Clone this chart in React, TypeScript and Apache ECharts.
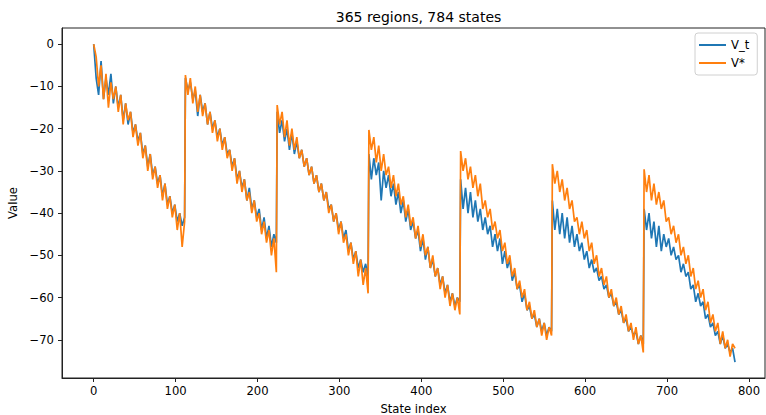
import React, { useEffect, useRef } from "react";
import * as echarts from "echarts";

// each block holds 112 states; values are read at every 3rd state (offsets 0..111)
const SEG_LEN = 112;
const STEP = 3;

// V_t (blue), one array per block
const vT1 = [0, -8, -12, -4, -13, -8, -12, -7, -14, -10, -15, -12, -18, -14, -19, -16, -21, -19, -23, -21, -26, -24, -29, -26, -31, -29, -33, -31, -36, -33, -38, -36, -40, -38, -42, -40, -43, -41];
const vT2 = [-8, -11, -9, -13, -11, -17, -12, -16, -14, -19, -16, -20, -18, -22, -20, -24, -22, -26, -25, -29, -27, -32, -30, -34, -32, -37, -34, -39, -37, -41, -39, -44, -41, -46, -43, -48, -45, -47];
const vT3 = [-16, -21, -18, -23, -20, -25, -21, -26, -23, -27, -25, -29, -27, -31, -29, -33, -31, -35, -33, -37, -35, -39, -38, -42, -40, -44, -42, -46, -44, -49, -47, -51, -49, -53, -51, -54, -52, -55];
const vT4 = [-26, -32, -27, -31, -28, -37, -30, -34, -31, -36, -33, -38, -35, -40, -37, -42, -39, -44, -42, -46, -44, -49, -46, -51, -48, -53, -51, -55, -53, -57, -55, -59, -57, -61, -59, -62, -60, -61];
const vT5 = [-32, -39, -34, -40, -35, -41, -37, -42, -39, -44, -41, -45, -43, -48, -45, -49, -46, -52, -49, -53, -51, -56, -54, -58, -57, -61, -59, -63, -62, -65, -64, -67, -65, -68, -66, -69, -67, -68];
const vT6 = [-37, -44, -39, -45, -40, -46, -41, -47, -43, -48, -45, -49, -47, -51, -49, -53, -51, -54, -53, -56, -55, -58, -57, -60, -59, -62, -61, -64, -63, -66, -65, -68, -67, -69, -68, -71, -69, -71];
const vT7 = [-39, -44, -40, -46, -42, -48, -43, -49, -45, -48, -46, -50, -48, -51, -50, -54, -52, -55, -54, -58, -57, -61, -59, -62, -61, -65, -64, -67, -66, -69, -68, -71, -69, -72, -71, -73, -72, -75.3];

// V* (orange)
const vS1 = [0, -3, -10, -5, -13, -7, -15, -9, -13, -10, -16, -12, -19, -14, -18, -16, -22, -19, -24, -21, -27, -24, -30, -26, -32, -29, -34, -31, -37, -33, -39, -36, -41, -38, -44, -40, -48, -42];
const vS2 = [-7.3, -12, -8, -14, -10, -16, -12, -17, -14, -19, -16, -21, -18, -23, -20, -25, -22, -27, -25, -30, -27, -33, -30, -35, -32, -37, -35, -40, -37, -42, -40, -45, -42, -47, -44, -50, -46, -54];
const vS3 = [-14.4, -19, -16, -22, -18, -24, -20, -25, -22, -27, -25, -29, -27, -31, -29, -33, -31, -35, -33, -37, -35, -40, -38, -42, -40, -45, -42, -47, -45, -50, -47, -52, -49, -55, -51, -57, -53, -59];
const vS4 = [-20.3, -25, -22, -28, -24, -30, -26, -31, -29, -34, -31, -36, -33, -38, -36, -41, -38, -43, -41, -46, -43, -48, -45, -50, -48, -53, -50, -55, -53, -58, -55, -60, -57, -62, -59, -63, -60, -64];
const vS5 = [-25.3, -30, -27, -32, -29, -34, -31, -36, -33, -39, -37, -41, -39, -44, -42, -46, -44, -49, -47, -52, -50, -55, -53, -58, -56, -60, -58, -63, -61, -65, -63, -67, -65, -69, -66, -70, -67, -69];
const vS6 = [-28.4, -33, -30, -35, -32, -37, -34, -39, -37, -42, -41, -45, -42, -46, -44, -49, -47, -52, -50, -55, -53, -57, -55, -60, -58, -62, -60, -64, -62, -66, -64, -68, -66, -70, -67, -71, -69, -73];
const vS7 = [-29.6, -35, -31, -37, -33, -38, -35, -39, -37, -42, -41, -45, -43, -47, -45, -50, -48, -52, -50, -55, -53, -58, -56, -60, -58, -63, -61, -66, -64, -68, -66, -71, -68, -72, -70, -74, -71, -72];

const vTBlocks = [vT1, vT2, vT3, vT4, vT5, vT6, vT7];
const vStarBlocks = [vS1, vS2, vS3, vS4, vS5, vS6, vS7];

const xTicks = [0, 100, 200, 300, 400, 500, 600, 700, 800];
const yTicks = [0, -10, -20, -30, -40, -50, -60, -70];

const FONT = "DejaVu Sans";
const minus = (v: number) => String(v).replace("-", "\u2212");

const toPts = (blocks: number[][]) =>
  blocks.flatMap((blk, b) => blk.map((v, j) => [b * SEG_LEN + j * STEP, v]));

export default function App() {
  const ref = useRef<HTMLDivElement>(null);
  useEffect(() => {
    document.body.style.margin = "0";
    const chart = echarts.init(ref.current!, null, { renderer: "svg" });
    chart.setOption({
      animation: false,
      backgroundColor: "#ffffff",
      title: {
        text: "365 regions, 784 states",
        left: 413.5,
        textAlign: "center",
        top: 5,
        textStyle: { fontFamily: FONT, fontSize: 14, fontWeight: "normal", color: "#000" },
      },
      legend: {
        data: [
          { name: "V_t", icon: "rect" },
          { name: "V*", icon: "rect" },
        ],
        orient: "vertical",
        left: 695,
        top: 33,
        padding: [5, 8, 5, 4],
        itemWidth: 27,
        itemHeight: 2,
        itemGap: 4,
        backgroundColor: "#fff",
        borderColor: "#d0d0d0",
        borderWidth: 1,
        borderRadius: 3,
        textStyle: { fontFamily: FONT, fontSize: 11.6, color: "#000", lineHeight: 14 },
      },
      grid: {
        left: 62,
        top: 28,
        width: 703,
        height: 350,
        show: true,
        borderColor: "#222",
        borderWidth: 1,
        backgroundColor: "transparent",
        containLabel: false,
        outerBoundsMode: "none",
      },
      xAxis: {
        type: "value",
        min: -38.7,
        max: 819.6,
        name: "State index",
        nameLocation: "middle",
        nameGap: 25,
        nameTextStyle: { fontFamily: FONT, fontSize: 11.6, color: "#000" },
        axisLine: { show: true, onZero: false, lineStyle: { color: "#222", width: 1 } },
        axisTick: { show: true, customValues: xTicks, length: 4, lineStyle: { color: "#222" } },
        axisLabel: {
          customValues: xTicks,
          fontFamily: FONT,
          fontSize: 11.6,
          color: "#000",
          margin: 7,
          formatter: (v: number) => minus(v),
        },
        splitLine: { show: false },
      },
      yAxis: {
        type: "value",
        min: -79.05,
        max: 3.85,
        name: "Value",
        nameLocation: "middle",
        nameGap: 31,
        nameTextStyle: { fontFamily: FONT, fontSize: 11.6, color: "#000" },
        axisLine: { show: true, onZero: false, lineStyle: { color: "#222", width: 1 } },
        axisTick: { show: true, customValues: yTicks, length: 4, lineStyle: { color: "#222" } },
        axisLabel: {
          customValues: yTicks,
          fontFamily: FONT,
          fontSize: 11.6,
          color: "#000",
          margin: 8,
          formatter: (v: number) => minus(v),
        },
        splitLine: { show: false },
      },
      series: [
        {
          name: "V_t",
          type: "line",
          data: toPts(vTBlocks),
          showSymbol: false,
          symbol: "none",
          color: "#1f77b4",
          lineStyle: { color: "#1f77b4", width: 1.7 },
          z: 2,
        },
        {
          name: "V*",
          type: "line",
          data: toPts(vStarBlocks),
          showSymbol: false,
          symbol: "none",
          color: "#ff7f0e",
          lineStyle: { color: "#ff7f0e", width: 1.7 },
          z: 3,
        },
      ],
    });
    return () => chart.dispose();
  }, []);
  return <div ref={ref} style={{ width: 766, height: 415 }} />;
}
